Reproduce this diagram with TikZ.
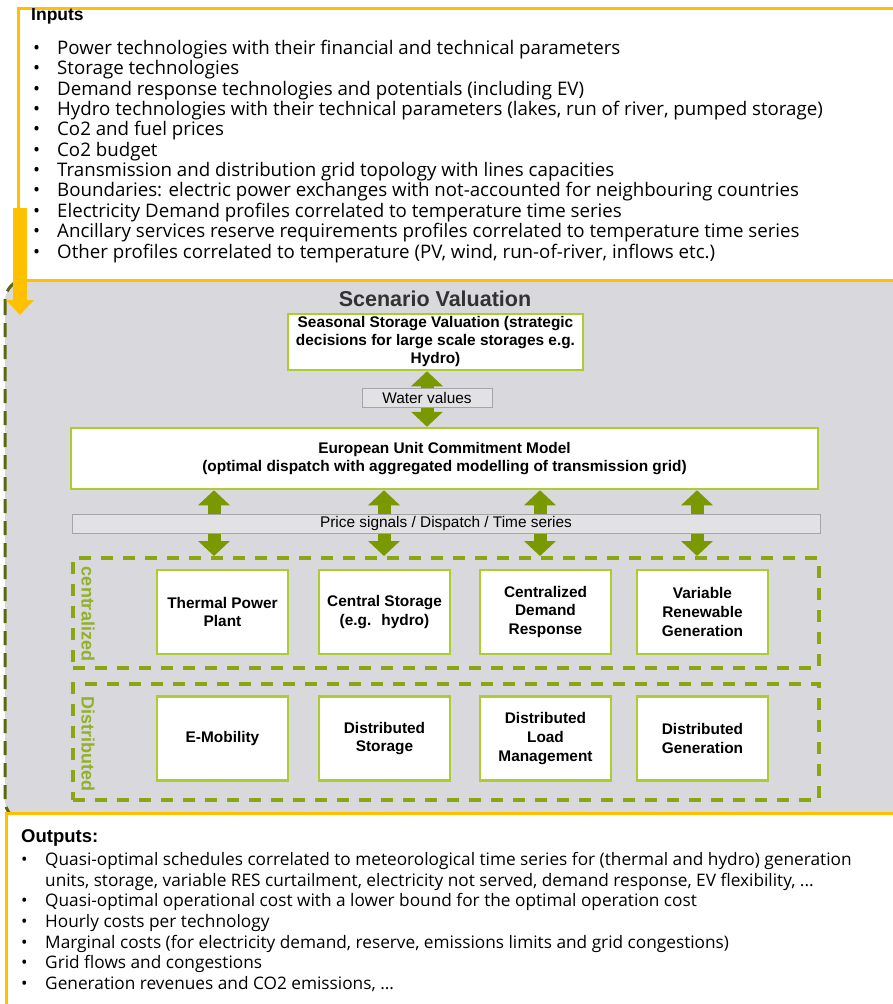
\documentclass[tikz,border=0pt]{standalone}
\usepackage{fontspec}
\setmainfont{Liberation Sans}
\newfontfamily\listfont{Open Sans}
\usetikzlibrary{arrows.meta,positioning,backgrounds}

\definecolor{inyellow}{RGB}{255,192,0}
\definecolor{valgray}{RGB}{216,216,221}
\definecolor{olivedark}{RGB}{90,105,15}
\definecolor{arrowgreen}{RGB}{122,152,0}
\definecolor{boxlime}{RGB}{172,204,48}
\definecolor{dashgreen}{RGB}{138,166,16}
\definecolor{labgreen}{RGB}{146,176,40}
\definecolor{bargray}{RGB}{226,226,229}
\definecolor{barline}{RGB}{165,165,168}
\definecolor{titlegray}{RGB}{50,50,50}

\newcommand{\itm}{\makebox[24pt][l]{\textbullet}}

\begin{document}
\begin{tikzpicture}[x=1pt, y=-1pt, every node/.style={inner sep=0pt},
    yellowframe/.style={draw=inyellow, line width=3pt, fill=white, anchor=north west},
    unitbox/.style={draw=boxlime, line width=2.5pt, fill=white, minimum width=131pt, minimum height=84pt, align=center, font=\fontsize{15.4}{18.6}\selectfont\bfseries},
    groupframe/.style={draw=dashgreen, line width=4pt, dash pattern=on 12pt off 10pt, minimum width=746pt},
    grouplabel/.style={rotate=-90, text=labgreen, font=\fontsize{18}{20}\selectfont\bfseries},
    signalbar/.style={draw=barline, line width=1pt, fill=bargray, minimum height=19pt, font=\fontsize{15.4}{18}\selectfont},
    dblarrow/.style={draw=arrowgreen, line width=13pt, {Triangle[width=31pt,length=15pt]}-{Triangle[width=31pt,length=15pt]}},
    listtext/.style={anchor=north west, align=left}]
    \useasboundingbox (0,0) rectangle (893,1004);

    % scenario valuation area
    \begin{scope}[on background layer]
        \draw[olivedark, line width=3pt, dash pattern=on 14pt off 8pt, fill=valgray, rounded corners=22pt] (5,279) rectangle (912,822);
    \end{scope}

    % inputs
    \node[yellowframe, minimum width=890pt, minimum height=272pt] (inbox) at (17,7) {};
    \node[anchor=west, font=\fontsize{17.5}{20}\selectfont\bfseries] (inhead) at (31,16) {Inputs};
    \node[listtext, font=\listfont\fontsize{18.7}{20.35}\selectfont] (inlist) at (33,40) {\itm Power technologies with their financial and technical parameters\\
        \itm Storage technologies\\
        \itm Demand response technologies and potentials (including EV)\\
        \itm Hydro technologies with their technical parameters (lakes, run of river, pumped storage)\\
        \itm Co2 and fuel prices\\
        \itm Co2 budget\\
        \itm Transmission and distribution grid topology with lines capacities\\
        \itm Boundaries: electric power exchanges with not-accounted for neighbouring countries\\
        \itm Electricity Demand profiles correlated to temperature time series\\
        \itm Ancillary services reserve requirements profiles correlated to temperature time series\\
        \itm Other profiles correlated to temperature (PV, wind, run-of-river, inflows etc.)};

    \coordinate (feedtop) at (20,208);
    \coordinate (feedtip) at (20,315);
    \draw[inyellow, line width=14pt, -{Triangle[width=27pt,length=15pt]}] (feedtop) -- (feedtip);

    % models
    \node[font=\fontsize{21.5}{24}\selectfont\bfseries, text=titlegray] (title) at (435,299) {Scenario Valuation};
    \node[unitbox, minimum width=295pt, minimum height=56pt, font=\fontsize{15.4}{18}\selectfont\bfseries] (seas) at (435.5,342) {Seasonal Storage Valuation (strategic\\decisions for large scale storages e.g.\\Hydro)};
    \node[unitbox, minimum width=747pt, minimum height=61pt, font=\fontsize{15.4}{18.3}\selectfont\bfseries] (eucm) at (444.5,458.5) {European Unit Commitment Model\\(optimal dispatch with aggregated modelling of transmission grid)};

    % groups
    \node[groupframe, minimum height=110pt] (cent) at (446,613) {};
    \node[groupframe, minimum height=116pt] (dist) at (446,742) {};
    \node[grouplabel] (centlab) at (88,614) {centralized};
    \node[grouplabel] (distlab) at (88,744) {Distributed};

    \node[unitbox] (thermal) at (222.5,612) {Thermal Power\\Plant};
    \node[unitbox] (cstor) at (384.5,612) {Central Storage\\(e.g.~ hydro)};
    \node[unitbox] (cdem) at (545.5,612) {Centralized\\Demand\\Response};
    \node[unitbox] (vres) at (702.5,612) {Variable\\Renewable\\Generation};
    \node[unitbox] (emob) at (222.5,738.5) {E-Mobility};
    \node[unitbox] (dstor) at (384.5,738.5) {Distributed\\Storage};
    \node[unitbox] (dload) at (545.5,738.5) {Distributed\\Load\\Management};
    \node[unitbox] (dgen) at (702.5,738.5) {Distributed\\Generation};

    % exchanges
    \begin{scope}[on background layer]
        \draw[dblarrow] (seas.south -| 427,0) -- (eucm.north -| 427,0);
        \foreach \ax in {214,384,540,697}
            \draw[dblarrow] (eucm.south -| \ax,0) -- (cent.north -| \ax,0);
    \end{scope}
    \node[signalbar, minimum width=130pt] (water) at (427,397.5) {Water values};
    \node[signalbar, minimum width=748pt] (price) at (446,523.5) {Price signals / Dispatch / Time series};

    % outputs
    \node[yellowframe, minimum width=900pt, minimum height=200pt] (outbox) at (5,812) {};
    \node[anchor=west, font=\fontsize{18.5}{20}\selectfont\bfseries] (outhead) at (21,838) {Outputs:};
    \node[listtext, font=\listfont\fontsize{17.25}{20.7}\selectfont] (outlist) at (21,852) {\itm Quasi-optimal schedules correlated to meteorological time series for (thermal and hydro) generation\\
        \hspace*{24pt}units, storage, variable RES curtailment, electricity not served, demand response, EV flexibility, ...\\
        \itm Quasi-optimal operational cost with a lower bound for the optimal operation cost\\
        \itm Hourly costs per technology\\
        \itm Marginal costs (for electricity demand, reserve, emissions limits and grid congestions)\\
        \itm Grid flows and congestions\\
        \itm Generation revenues and CO2 emissions, ...};
\end{tikzpicture}
\end{document}
